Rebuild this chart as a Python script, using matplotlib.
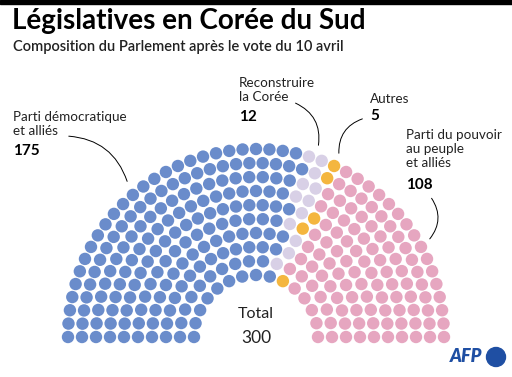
import numpy as np
import matplotlib
matplotlib.use("Agg")
import matplotlib.pyplot as plt
from matplotlib.patches import Circle, Rectangle
from matplotlib.collections import PatchCollection

plt.rcParams['font.family'] = ['Lato', 'DejaVu Sans']

parties = ["Parti démocratique\net alliés", "Reconstruire\nla Corée", "Autres",
           "Parti du pouvoir\nau peuple\net alliés"]
seats = [175, 12, 5, 108]
colors = ["#6a8ccb", "#d8d0e6", "#f4b63f", "#e6a6c0"]
total = sum(seats)
n_rows = 10

fig = plt.figure(figsize=(5.12, 3.77), dpi=100)
ax = fig.add_axes([0, 0, 1, 1])
ax.set_xlim(0, 512)
ax.set_ylim(377, 0)
ax.set_aspect('equal')
ax.axis('off')

# top black bar
ax.add_patch(Rectangle((0, 0), 512, 4, color='black'))

# hemicycle layout
cx, cy = 256, 337
r_in, r_out = 62, 188
radii = np.linspace(r_in, r_out, n_rows)
raw = total * radii / radii.sum()
counts = np.floor(raw).astype(int)
rest = total - counts.sum()
order = np.argsort(-(raw - counts))
counts[order[:rest]] += 1

pts = []
for r, n in zip(radii, counts):
    for a in np.linspace(np.pi, 0, n):
        pts.append((a, r))
pts.sort(key=lambda p: (-p[0], p[1]))

seat_colors = []
for s, c in zip(seats, colors):
    seat_colors += [c] * s

circles = [Circle((cx + r * np.cos(a), cy - r * np.sin(a)), 6.2) for a, r in pts]
ax.add_collection(PatchCollection(circles, facecolors=seat_colors, edgecolors='none'))

# titles
ax.text(12, 21, "Législatives en Corée du Sud", fontsize=20, fontweight='bold',
        va='center', ha='left')
ax.text(13, 47, "Composition du Parlement après le vote du 10 avril", fontsize=10.5,
        va='center', ha='left', color='#222222', fontweight='semibold')

lab = dict(fontsize=9.7, va='top', ha='left', color='#222222', linespacing=1.2)
num = dict(fontsize=11, va='top', ha='left', fontweight='bold', color='black')

ax.text(13, 111, parties[0], **lab)
ax.text(13, 144, str(seats[0]), **num)
ax.text(239, 77, parties[1], **lab)
ax.text(239, 110, str(seats[1]), **num)
ax.text(370, 93, parties[2], **lab)
ax.text(370, 109, str(seats[2]), **num)
ax.text(406, 129, parties[3], **lab)
ax.text(406, 178, str(seats[3]), **num)

line = dict(arrowstyle='-', color='black', lw=0.7)
ax.annotate("", xy=(128, 184), xytext=(66, 136),
            arrowprops=dict(connectionstyle="arc3,rad=-0.35", **line))
ax.annotate("", xy=(318, 148), xytext=(293, 102),
            arrowprops=dict(connectionstyle="arc3,rad=-0.4", **line))
ax.annotate("", xy=(339, 156), xytext=(365, 118),
            arrowprops=dict(connectionstyle="arc3,rad=0.4", **line))
ax.annotate("", xy=(428, 241), xytext=(430, 196),
            arrowprops=dict(connectionstyle="arc3,rad=-0.4", **line))

ax.text(256, 314, "Total", fontsize=11.5, ha='center', va='center', color='#222222')
ax.text(256, 338, str(total), fontsize=12.5, ha='center', va='center', color='#222222')

# AFP logo
ax.text(466, 357, "AFP", fontsize=13, fontweight='heavy', style='italic',
        color='#1f4fa3', ha='center', va='center')
ax.add_patch(Circle((496, 357), 9.5, color='#1f4fa3'))

fig.savefig("out.png", dpi=100)
